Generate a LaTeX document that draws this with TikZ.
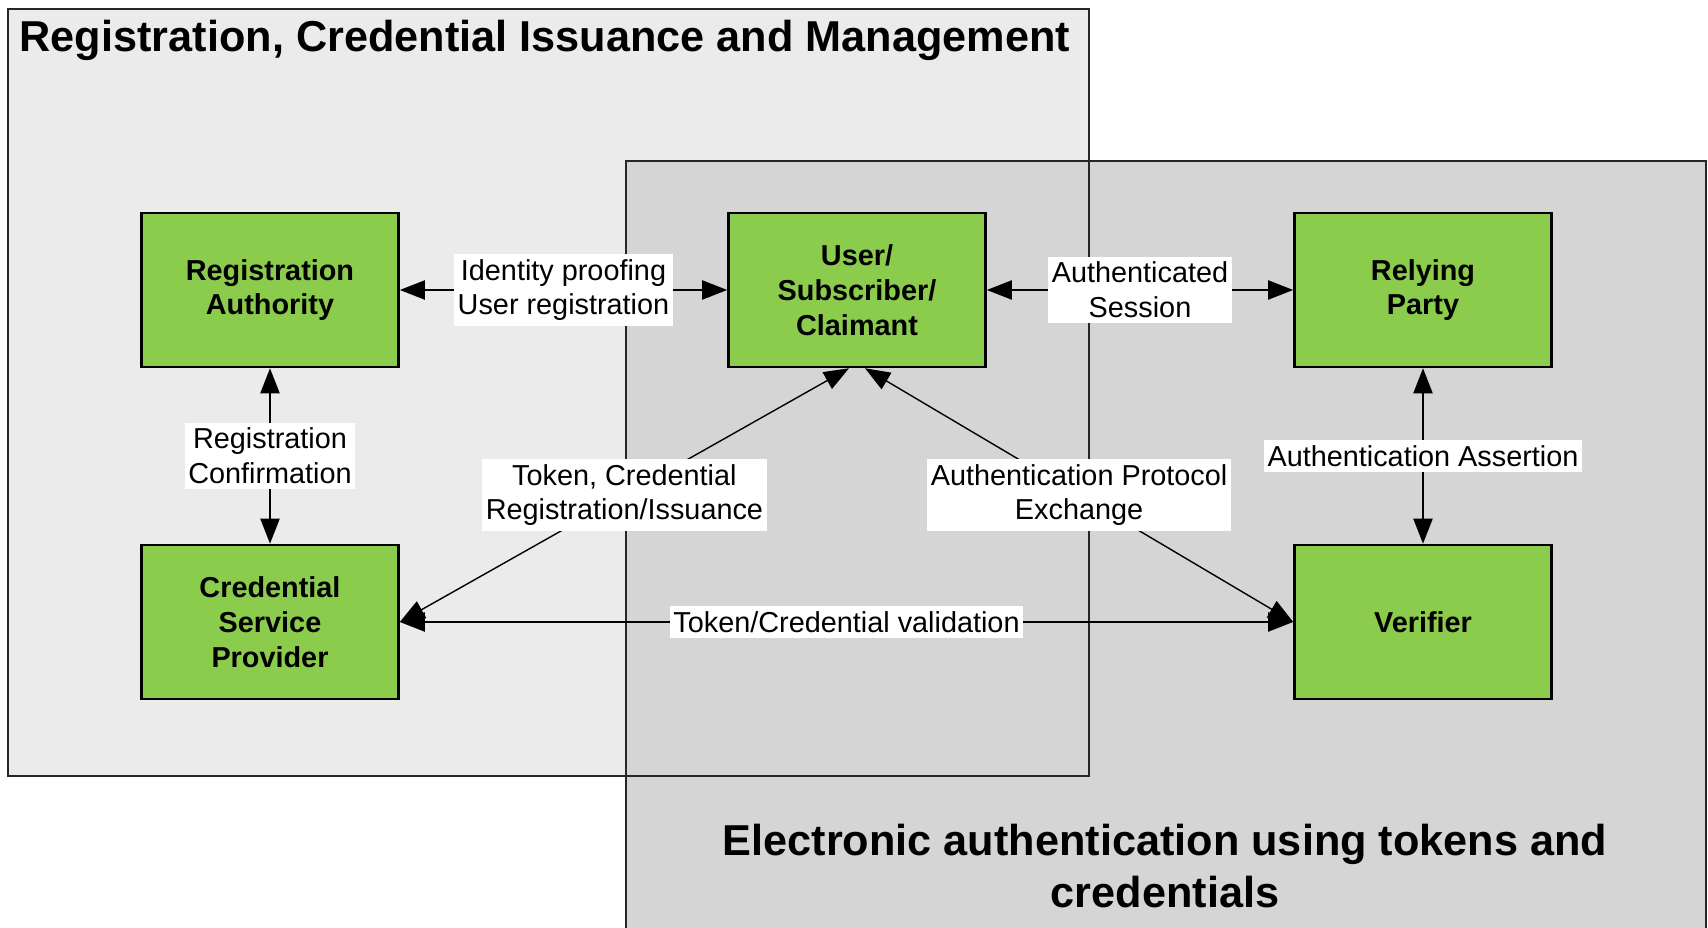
\documentclass[tikz,border=0pt]{standalone}
\usepackage{fontspec}
\setmainfont{Liberation Sans}
\definecolor{role_green}{RGB}{140, 204, 76}
\definecolor{panel_light}{RGB}{235, 235, 235}
\definecolor{panel_dark}{RGB}{213, 213, 213}
\usepackage{tikz}
\usetikzlibrary{arrows.meta, calc}

\tikzset{
  role_box/.style={draw=black, line width=0.7pt, fill=role_green, minimum width=2.57cm, minimum height=1.54cm,
    align=center, font=\fontsize{8.2}{9.9}\selectfont\bfseries},
  flow_lbl/.style={fill=white, inner xsep=1pt, inner ysep=1.5pt, align=center, font=\fontsize{8.2}{9.9}\selectfont},
  flow/.style={{Triangle[length=0.25cm,width=0.19cm]}-{Triangle[length=0.25cm,width=0.19cm]}, line width=0.6pt},
  thin_flow/.style={flow, line width=0.4pt},
  panel_title/.style={inner sep=0pt, align=center, font=\fontsize{12.3}{14.8}\selectfont\bfseries},
}

\begin{document}
\begin{tikzpicture}[x=0.01cm, y=-0.01cm]
  \useasboundingbox (0,0) rectangle (1708,928);

  % the two overlapping areas
  \fill[panel_light] (8,9) rectangle (1089,776);
  \fill[panel_dark] (626,161) rectangle (1706,935);
  \draw[line width=0.8pt, black!85] (8,9) rectangle (1089,776);
  \draw[line width=0.8pt, black!85] (626,161) rectangle (1706,935);

  \node[panel_title, anchor=base west] (regtitle) at (19,52) {Registration, Credential Issuance and Management};
  \node[panel_title] (authtitle) at (1165,866) {Electronic authentication using tokens and\\credentials};

  % roles
  \node[role_box] (ra)   at (270,290)  {Registration\\Authority};
  \node[role_box] (user) at (857,290)  {User/\\Subscriber/\\Claimant};
  \node[role_box] (rp)   at (1423,290) {Relying\\Party};
  \node[role_box] (csp)  at (270,622)  {Credential\\Service\\Provider};
  \node[role_box] (ver)  at (1423,622) {Verifier};

  % exchanges
  \draw[flow] (ra) -- node[flow_lbl] {Identity proofing\\User registration} (user);
  \draw[flow] (user) -- node[flow_lbl] {Authenticated\\Session} (rp);
  \draw[flow] (ra) -- node[flow_lbl] {Registration\\Confirmation} (csp);
  \draw[flow] (rp) -- node[flow_lbl] {Authentication Assertion} (ver);
  \draw[flow] (csp) -- node[flow_lbl] {Token/Credential validation} (ver);
  \draw[thin_flow] ([xshift=-0.08cm]user.south) -- node[flow_lbl] {Token, Credential\\Registration/Issuance} (csp.east);
  \draw[thin_flow] ([xshift=0.08cm]user.south) -- node[flow_lbl] {Authentication Protocol\\Exchange} (ver.west);
\end{tikzpicture}
\end{document}
